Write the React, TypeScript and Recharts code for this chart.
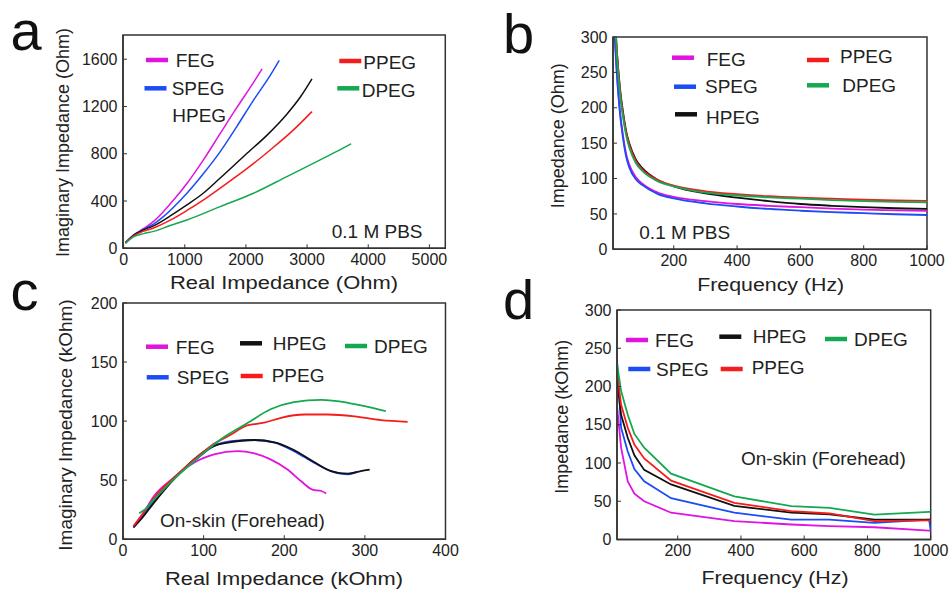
import React from "react";
import { LineChart, Line, XAxis, YAxis, ReferenceArea } from "recharts";

const seriesNames = ["FEG", "SPEG", "HPEG", "PPEG", "DPEG"];
const seriesColors: Record<string, string> = {
  FEG: "#e014e0",
  SPEG: "#1c4cf5",
  HPEG: "#111111",
  PPEG: "#f51c1c",
  DPEG: "#14a850",
};

// (a) Nyquist in 0.1 M PBS, [real, imaginary] in Ohm
const pbsNyqFEG = [[30, 50], [160, 112], [330, 168], [490, 228], [650, 310], [820, 410], [1035, 548], [1310, 752], [1580, 972], [1850, 1190], [2120, 1400], [2265, 1518]];
const pbsNyqSPEG = [[30, 48], [160, 110], [330, 162], [490, 205], [650, 268], [820, 350], [1035, 466], [1310, 635], [1580, 818], [1850, 1030], [2120, 1250], [2400, 1465], [2545, 1590]];
const pbsNyqHPEG = [[30, 46], [160, 108], [330, 156], [490, 190], [763, 274], [1035, 367], [1307, 468], [1580, 595], [1988, 790], [2350, 960], [2669, 1135], [2890, 1280], [3080, 1434]];
const pbsNyqPPEG = [[30, 44], [160, 104], [330, 145], [490, 172], [763, 238], [1035, 320], [1307, 410], [1580, 510], [1988, 663], [2397, 832], [2778, 1002], [3080, 1157]];
const pbsNyqDPEG = [[30, 42], [160, 96], [330, 124], [490, 143], [760, 193], [1035, 240], [1580, 353], [2124, 466], [2669, 607], [3214, 748], [3486, 820], [3720, 885]];

// (b) impedance vs frequency in 0.1 M PBS (Ohm)
const pbsFreq = [10, 20, 30, 40, 50, 60, 80, 100, 150, 200, 300, 400, 500, 600, 700, 800, 900, 1000];
const pbsImpFEG = [330, 252, 196, 160, 134, 119, 102, 93, 80, 74, 68, 64, 61.5, 59.5, 57.5, 56, 55, 54.5];
const pbsImpSPEG = [325, 248, 192, 156, 130, 115, 99, 91, 78, 72, 65, 60.5, 57, 54.5, 52.5, 51, 49.5, 48.5];
const pbsImpHPEG = [360, 282, 228, 193, 166, 149, 127, 115, 98, 89, 79, 73, 68, 64, 61.5, 59.5, 58, 57];
const pbsImpPPEG = [360, 280, 225, 190, 164, 147, 125, 113, 98, 90, 82, 78, 75, 73, 71.5, 70, 69, 68.5];
const pbsImpDPEG = [355, 275, 220, 186, 160, 143, 122, 111, 96, 89, 80, 76, 73.5, 71.5, 69.5, 68, 67, 66.5];

// (c) Nyquist on skin, [real, imaginary] in kOhm
const skinNyqFEG = [[13, 11], [25, 22], [38.5, 36.6], [63, 52], [88, 64.8], [113, 71.8], [142, 74.6], [163, 72.7], [183, 67.6], [204, 59], [221, 49], [235, 42], [246, 40.8], [252, 38.6]];
const skinNyqSPEG = [[13, 10], [25, 20], [38.5, 33], [63, 52], [88, 66], [113, 79], [134, 83], [163, 84], [188, 81.7], [212, 74.6], [237, 64.8], [258, 57.7], [270, 55.5], [279, 55], [291, 57]];
const skinNyqHPEG = [[13, 9.9], [25, 19], [38.5, 31], [63, 50.7], [88, 67.6], [113, 79], [130, 81.7], [163, 84], [188, 82], [212, 75.5], [237, 65.4], [258, 57.7], [279, 55.5], [295, 57.7], [306, 59]];
const skinNyqPPEG = [[13, 11], [25, 22], [38.5, 35], [63, 52], [84, 64.8], [109, 79], [134, 88.7], [154, 96.3], [175, 98.6], [196, 102.8], [225, 105.6], [254, 105.6], [287, 104], [320, 100.8], [353, 99.4]];
const skinNyqDPEG = [[20, 22], [25, 24], [38.5, 33.8], [63, 50.7], [88, 66], [121, 84.5], [155, 98.6], [183, 110], [212, 116], [246, 118], [279, 115.5], [304, 112], [326, 108.4]];

// (d) impedance vs frequency on skin (kOhm)
const skinFreq = [8, 21, 42, 63, 94, 179, 379, 559, 680, 822, 995, 1000];
const skinImpFEG = [175, 120, 76, 60, 50, 35, 24, 19.6, 17.4, 16, 11.7, 11.5];
const skinImpSPEG = [235, 146, 115, 92, 76, 54, 35, 26, 26, 21.7, 26, 12];
const skinImpHPEG = [210, 163, 133, 110, 91, 72, 44, 35, 33, 26, 26, 26];
const skinImpPPEG = [218, 176, 146, 124, 106, 77, 48, 37, 34, 24, 25, 25];
const skinImpDPEG = [230, 194, 163, 138, 120, 86, 56.5, 43.5, 41.3, 32.6, 36, 36];

const freqTicks = [200, 400, 600, 800, 1000];
const impTicks = [0, 50, 100, 150, 200, 250, 300];

const toPoints = (arr: number[][]) => arr.map(([x, y]) => ({ x, y }));
const toRows = (freq: number[], cols: Record<string, number[]>) =>
  freq.map((f, i) => {
    const row: any = { x: f };
    Object.keys(cols).forEach((k) => (row[k] = cols[k][i]));
    return row;
  });

const pbsNyq: Record<string, number[][]> = { FEG: pbsNyqFEG, SPEG: pbsNyqSPEG, HPEG: pbsNyqHPEG, PPEG: pbsNyqPPEG, DPEG: pbsNyqDPEG };
const skinNyq: Record<string, number[][]> = { FEG: skinNyqFEG, SPEG: skinNyqSPEG, HPEG: skinNyqHPEG, PPEG: skinNyqPPEG, DPEG: skinNyqDPEG };
const pbsRows = toRows(pbsFreq, { FEG: pbsImpFEG, SPEG: pbsImpSPEG, HPEG: pbsImpHPEG, PPEG: pbsImpPPEG, DPEG: pbsImpDPEG });
const skinRows = toRows(skinFreq, { FEG: skinImpFEG, SPEG: skinImpSPEG, HPEG: skinImpHPEG, PPEG: skinImpPPEG, DPEG: skinImpDPEG });

const FONT = '"Liberation Sans", Arial, sans-serif';
const tickStyle = { fontSize: 16, fill: "#222", fontFamily: FONT };
const axisLine = { stroke: "#333", strokeWidth: 1.5 };

type Box = { x0: number; x1: number; y0: number; y1: number };

const Panel = ({
  box,
  xDomain,
  yDomain,
  xTicks,
  yTicks,
  data,
  children,
}: {
  box: Box;
  xDomain: number[];
  yDomain: number[];
  xTicks: number[];
  yTicks: number[];
  data?: any[];
  children: React.ReactNode;
}) => {
  const yw = 60, mt = 12, mr = 18, xh = 30;
  const w = box.x1 - box.x0 + yw + mr;
  const h = box.y1 - box.y0 + mt + xh;
  return (
    <div style={{ position: "absolute", left: box.x0 - yw, top: box.y0 - mt }}>
      <LineChart width={w} height={h} data={data} margin={{ top: mt, right: mr, left: 0, bottom: 0 }}>
        <ReferenceArea x1={xDomain[0]} x2={xDomain[1]} y1={yDomain[0]} y2={yDomain[1]} fill="none" stroke="#333" strokeWidth={1.5} />
        <XAxis
          type="number"
          dataKey="x"
          domain={xDomain}
          ticks={xTicks}
          interval={0}
          allowDataOverflow
          height={xh}
          tickSize={-4}
          tickMargin={9}
          tick={tickStyle}
          axisLine={axisLine}
          tickLine={{ stroke: "#333" }}
        />
        <YAxis
          type="number"
          domain={yDomain}
          ticks={yTicks}
          interval={0}
          allowDataOverflow
          width={yw}
          tickSize={-4}
          tickMargin={9.5}
          tick={tickStyle}
          axisLine={axisLine}
          tickLine={{ stroke: "#333" }}
        />
        {children}
      </LineChart>
    </div>
  );
};

type LegendItem = { name: string; sx?: number; sy?: number; tx: number; ty: number };

const legendA: LegendItem[] = [
  { name: "FEG", sx: 146, sy: 60, tx: 175.7, ty: 60 },
  { name: "SPEG", sx: 144.5, sy: 88.3, tx: 171.7, ty: 88 },
  { name: "HPEG", tx: 172.3, ty: 115 },
  { name: "PPEG", sx: 339.3, sy: 61, tx: 363.3, ty: 62 },
  { name: "DPEG", sx: 337.3, sy: 88.3, tx: 361.7, ty: 90 },
];
const legendB: LegendItem[] = [
  { name: "FEG", sx: 672, sy: 57.7, tx: 706.7, ty: 59 },
  { name: "SPEG", sx: 674, sy: 86.7, tx: 705, ty: 86 },
  { name: "HPEG", sx: 675, sy: 114.3, tx: 706, ty: 117 },
  { name: "PPEG", sx: 807, sy: 60, tx: 840, ty: 56.5 },
  { name: "DPEG", sx: 807, sy: 85.3, tx: 842.3, ty: 85 },
];
const legendC: LegendItem[] = [
  { name: "FEG", sx: 146, sy: 346.7, tx: 175.7, ty: 347 },
  { name: "SPEG", sx: 146.7, sy: 377.3, tx: 176.7, ty: 377 },
  { name: "HPEG", sx: 240, sy: 343.3, tx: 272.7, ty: 343 },
  { name: "PPEG", sx: 240.7, sy: 376, tx: 271.7, ty: 375.5 },
  { name: "DPEG", sx: 345, sy: 346, tx: 374, ty: 346.5 },
];
const legendD: LegendItem[] = [
  { name: "FEG", sx: 626, sy: 340, tx: 655, ty: 340 },
  { name: "SPEG", sx: 628.3, sy: 369, tx: 656, ty: 369.5 },
  { name: "HPEG", sx: 719.3, sy: 336.7, tx: 752.7, ty: 336 },
  { name: "PPEG", sx: 720.7, sy: 369, tx: 751.7, ty: 367.5 },
  { name: "DPEG", sx: 825, sy: 339, tx: 854, ty: 339 },
];

const LegendGroup = ({ items }: { items: LegendItem[] }) => (
  <g>
    {items.map((it) => (
      <g key={it.name}>
        {it.sx !== undefined && (
          <line x1={it.sx} x2={it.sx + 22} y1={it.sy} y2={it.sy} stroke={seriesColors[it.name]} strokeWidth={4.5} />
        )}
        <text x={it.tx} y={it.ty} fontSize={19} fill="#222" dominantBaseline="central">
          {it.name}
        </text>
      </g>
    ))}
  </g>
);

const Overlay = () => (
  <svg width={950} height={590} style={{ position: "absolute", left: 0, top: 0, pointerEvents: "none", fontFamily: FONT }}>
    <g fontSize={56} fill="#111">
      <text x={10.5} y={49.5}>a</text>
      <text x={503} y={52.5}>b</text>
      <text x={10.5} y={310}>c</text>
      <text x={503} y={319}>d</text>
    </g>
    <g fill="#222" fontSize={18} textAnchor="middle" dominantBaseline="central">
      <text transform="translate(63,142.5) rotate(-90)">Imaginary Impedance (Ohm)</text>
      <text x={284} y={283} textLength={228} lengthAdjust="spacingAndGlyphs">Real Impedance (Ohm)</text>
      <text transform="translate(558.3,135.8) rotate(-90)">Impedance (Ohm)</text>
      <text x={770.7} y={285} textLength={147} lengthAdjust="spacingAndGlyphs">Frequency (Hz)</text>
      <text transform="translate(65,425) rotate(-90)" fontSize={19}>Imaginary Impedance (kOhm)</text>
      <text x={284} y={579} textLength={238} lengthAdjust="spacingAndGlyphs">Real Impedance (kOhm)</text>
      <text transform="translate(561.7,416.7) rotate(-90)">Impedance (kOhm)</text>
      <text x={775} y={578.3} textLength={147} lengthAdjust="spacingAndGlyphs">Frequency (Hz)</text>
    </g>
    <g fill="#222" fontSize={19} dominantBaseline="central">
      <text x={331.7} y={231}>0.1 M PBS</text>
      <text x={639.3} y={232.3}>0.1 M PBS</text>
      <text x={160} y={520}>On-skin (Forehead)</text>
      <text x={741} y={458.3}>On-skin (Forehead)</text>
    </g>
    <LegendGroup items={legendA} />
    <LegendGroup items={legendB} />
    <LegendGroup items={legendC} />
    <LegendGroup items={legendD} />
  </svg>
);

export default function App() {
  return (
    <div style={{ position: "absolute", left: 0, top: 0, width: 950, height: 590, background: "#fff", fontFamily: FONT }}>
      <Panel
        box={{ x0: 122.7, x1: 445, y0: 35, y1: 248.3 }}
        xDomain={[-10, 5260]}
        yDomain={[0, 1805]}
        xTicks={[0, 1000, 2000, 3000, 4000, 5000]}
        yTicks={[0, 400, 800, 1200, 1600]}
      >
        {seriesNames.map((n) => (
          <Line key={n} data={toPoints(pbsNyq[n])} dataKey="y" name={n} type="monotone" stroke={seriesColors[n]} strokeWidth={1.5} dot={false} isAnimationActive={false} />
        ))}
      </Panel>
      <Panel
        box={{ x0: 613.3, x1: 927.3, y0: 37, y1: 249.3 }}
        xDomain={[8, 1000]}
        yDomain={[0, 300]}
        xTicks={freqTicks}
        yTicks={impTicks}
        data={pbsRows}
      >
        {seriesNames.map((n) => (
          <Line key={n} dataKey={n} name={n} type="monotone" stroke={seriesColors[n]} strokeWidth={1.8} dot={false} isAnimationActive={false} />
        ))}
      </Panel>
      <Panel
        box={{ x0: 122.5, x1: 445, y0: 303.3, y1: 539.5 }}
        xDomain={[0, 400]}
        yDomain={[0, 200]}
        xTicks={[0, 100, 200, 300, 400]}
        yTicks={[0, 50, 100, 150, 200]}
      >
        {seriesNames.map((n) => (
          <Line key={n} data={toPoints(skinNyq[n])} dataKey="y" name={n} type="monotone" stroke={seriesColors[n]} strokeWidth={1.8} dot={false} isAnimationActive={false} />
        ))}
      </Panel>
      <Panel
        box={{ x0: 617.3, x1: 931, y0: 310, y1: 539.5 }}
        xDomain={[8, 1000]}
        yDomain={[0, 300]}
        xTicks={freqTicks}
        yTicks={impTicks}
        data={skinRows}
      >
        {seriesNames.map((n) => (
          <Line key={n} dataKey={n} name={n} type="linear" stroke={seriesColors[n]} strokeWidth={1.8} dot={false} isAnimationActive={false} />
        ))}
      </Panel>
      <Overlay />
    </div>
  );
}
